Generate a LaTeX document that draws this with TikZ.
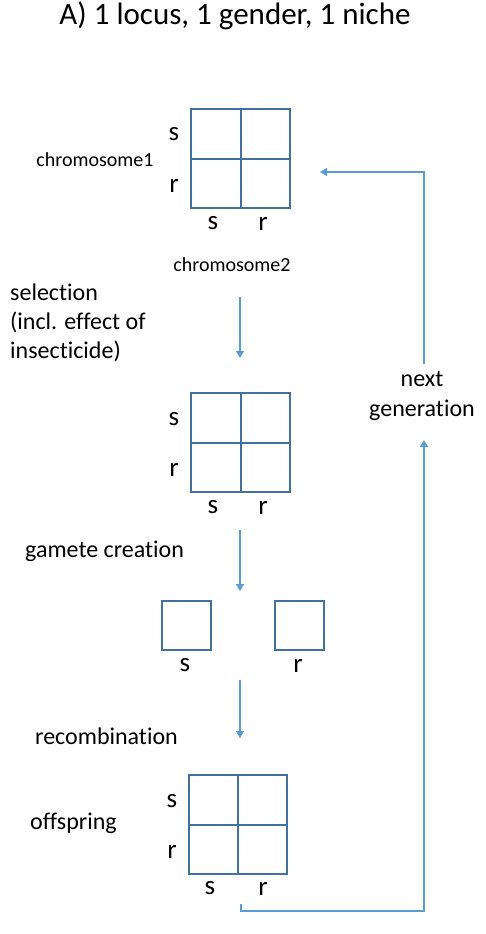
\documentclass[tikz,border=0pt]{standalone}
\usepackage{fontspec}
\setmainfont{Carlito}[Ligatures={NoCommon}]
\usetikzlibrary{arrows.meta}
\definecolor{gridc}{HTML}{41719C}
\definecolor{arrc}{HTML}{5B9BD5}
\tikzset{
  gridline/.style={draw=gridc,line width=2pt},
  flow/.style={draw=arrc,line width=1.5pt,-{Triangle[width=8pt,length=7pt]}},
  lbl/.style={font=\fontsize{27}{30}\selectfont,inner sep=0pt},
  txt/.style={font=\fontsize{24}{29}\selectfont,inner sep=0pt},
  small/.style={font=\fontsize{20}{24}\selectfont,inner sep=0pt},
}
\newcommand{\punnett}[5]{% name, x0, y0, x1, y1
  \draw[gridline] (#2,#3) rectangle (#4,#5);
  \draw[gridline] ({(#2+#4)/2},#3) -- ({(#2+#4)/2},#5);
  \draw[gridline] (#2,{(#3+#5)/2}) -- (#4,{(#3+#5)/2});
  \node[inner sep=0pt] (#1) at ({(#2+#4)/2},{(#3+#5)/2}) {};
}
\begin{document}
\begin{tikzpicture}[x=1pt,y=-1pt]
\useasboundingbox (0,0) rectangle (486,934);
\node[font=\fontsize{31}{36}\selectfont,inner sep=0pt] (title) at (235,16) {A) 1 locus, 1 gender, 1 niche};

% grid 1
\punnett{g1}{191}{109}{290}{208}
\node[lbl] (g1s) at (174,134) {s};
\node[lbl] (g1r) at (174,186) {r};
\node[lbl] (g1bs) at (213,223) {s};
\node[lbl] (g1br) at (263,224) {r};
\node[small] (chr1) at (95,160) {chromosome1};
\node[small] (chr2) at (232,265) {chromosome2};

\node[txt,align=left,anchor=west] (sel) at (10,323) {selection\\(incl. effect of\\insecticide)};

\coordinate (a1s) at (240,297);
\coordinate (a1e) at (240,358);
\draw[flow] (a1s) -- (a1e);

% grid 2
\punnett{g2}{191}{393}{290}{492}
\node[lbl] (g2s) at (174,419) {s};
\node[lbl] (g2r) at (174,470) {r};
\node[lbl] (g2bs) at (213,507) {s};
\node[lbl] (g2br) at (263,508) {r};

\node[txt,anchor=west] (gam) at (25,551) {gamete creation};
\coordinate (a2s) at (240,530);
\coordinate (a2e) at (240,591);
\draw[flow] (a2s) -- (a2e);

% gametes
\draw[gridline] (162,601) rectangle (211,650);
\node[inner sep=0pt] (gs) at (186,625) {};
\draw[gridline] (275,601) rectangle (324,650);
\node[inner sep=0pt] (gr) at (299,625) {};
\node[lbl] (gsl) at (185,665) {s};
\node[lbl] (grl) at (298,666) {r};

\coordinate (a3s) at (240,680);
\coordinate (a3e) at (240,738);
\draw[flow] (a3s) -- (a3e);
\node[txt,anchor=west] (rec) at (35,736) {recombination};

% grid 3
\punnett{g3}{189}{775}{287}{874}
\node[lbl] (g3s) at (172,801) {s};
\node[lbl] (g3r) at (172,852) {r};
\node[lbl] (g3bs) at (210,888) {s};
\node[lbl] (g3br) at (263,889) {r};
\node[txt,anchor=west] (off) at (30,823) {offspring};

% feedback
\node[txt,align=center,font=\fontsize{24}{30}\selectfont] (next) at (422,396) {next\\generation};
\coordinate (f0) at (241,904);
\draw[flow] (f0) -- (241,911) -- (424,911) -- (424,440);
\coordinate (f1) at (424,364);
\draw[flow] (f1) -- (424,172) -- (320,172);
\end{tikzpicture}
\end{document}
